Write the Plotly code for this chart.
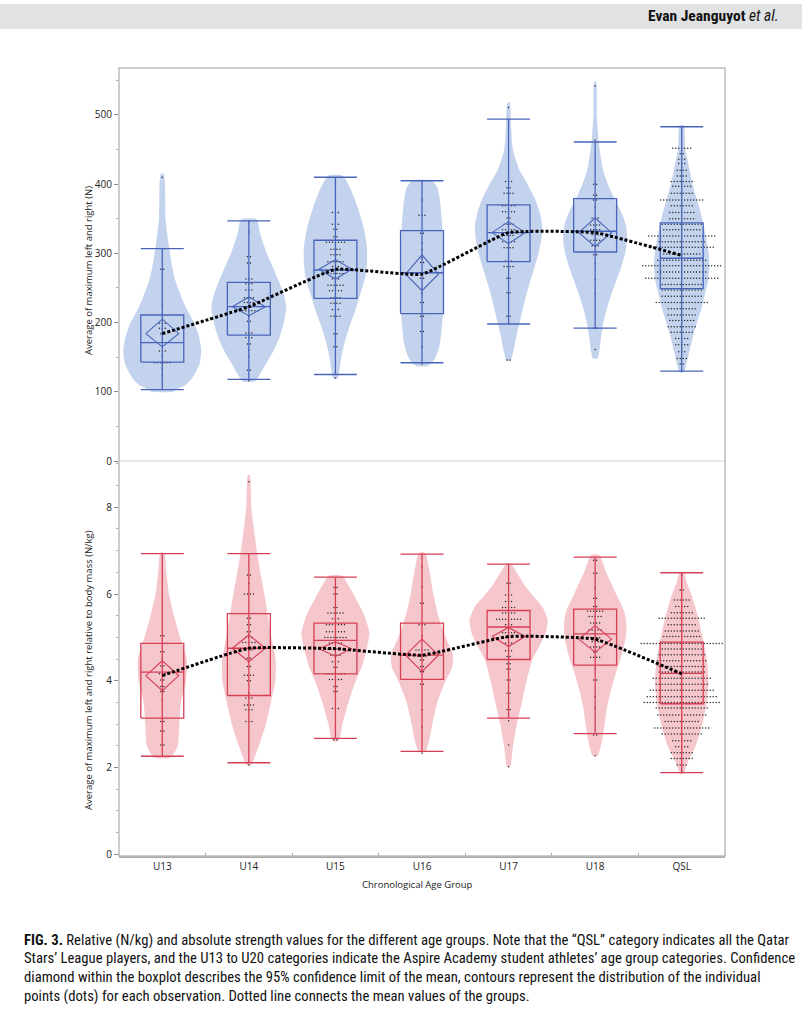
import plotly.graph_objects as go

groups = ["U13", "U14", "U15", "U16", "U17", "U18", "QSL"]

# ---------------- Absolute strength (N) ----------------
abs_lower = [103, 118, 125, 142, 198, 192, 130]
abs_q1 = [143, 182, 235, 213, 288, 302, 249]
abs_median = [171, 223, 276, 272, 330, 332, 293]
abs_q3 = [211, 258, 319, 333, 370, 379, 344]
abs_upper = [307, 347, 410, 405, 494, 461, 483]
abs_mean = [184, 223, 277, 270, 330, 330, 297]
abs_ci_low = [165, 210, 263, 246, 314, 310, None]
abs_ci_high = [205, 237, 291, 298, 346, 351, None]

# contour (density) profiles: value levels and relative density
abs_levels = [
    [100, 103, 110, 120, 140, 160, 180, 200, 220, 240, 260, 280, 300, 320, 350, 380, 400, 415],
    [115, 125, 140, 160, 180, 200, 223, 240, 260, 280, 300, 330, 349],
    [119, 124, 146, 170, 194, 218, 242, 266, 290, 310, 339, 363, 387, 412],
    [137, 140, 150, 170, 200, 230, 260, 290, 320, 350, 380, 395, 405],
    [145, 160, 180, 200, 220, 240, 260, 280, 300, 320, 340, 360, 380, 400, 420, 450, 480, 518],
    [148, 160, 180, 200, 220, 240, 260, 280, 300, 320, 340, 360, 380, 400, 420, 460, 500, 548],
    [128, 140, 160, 180, 200, 220, 240, 260, 280, 300, 320, 340, 360, 380, 400, 420, 450, 485],
]
abs_density = [
    [11, 13.3, 23.3, 30, 37.3, 39, 36.7, 31.7, 24.3, 18.3, 13.3, 10, 7.7, 5.7, 3.3, 3, 2.7, 1.5],
    [6, 11, 17, 25, 31, 35, 37.5, 35, 30, 24, 18, 11, 8],
    [2, 3.3, 5.5, 9, 14, 20, 25, 30, 31.7, 31.5, 28, 23, 17, 7.5],
    [5, 8.7, 13.7, 18, 20.3, 21.3, 22, 22, 21, 19.7, 17.7, 15.3, 10],
    [2, 5, 7.7, 11, 14.3, 17.7, 21.7, 26, 30, 32.7, 33.7, 31, 26, 19, 11, 4.3, 2.7, 1],
    [2.3, 4.3, 6, 8.3, 11.7, 16, 21, 26, 30, 32, 31, 26, 19, 12.7, 8, 3.7, 1.7, 1],
    [2, 4.7, 8, 11.3, 15.3, 19.7, 23, 26.3, 27.7, 27, 24.7, 22, 18.7, 14.7, 10.7, 8, 3.7, 2],
]

# individual points: row values and number of dots per row
abs_dot_values = [
    [410, 277, 225, 212, 199, 192, 184, 159, 151, 142, 134, 124],
    [346, 331, 295, 286, 263, 256, 247, 236, 229, 223, 217, 209, 202, 185, 178, 169, 160, 151, 131, 116],
    [401, 387, 359, 342, 335, 324, 316, 306, 298, 288, 281, 271, 263, 254, 246, 236, 228, 219, 209, 184, 165, 120],
    [377, 355, 329, 315, 305, 293, 287, 264, 242, 229, 209, 187, 165, 140],
    [511, 404, 395, 387, 369, 360, 351, 342, 334, 326, 317, 308, 289, 281, 264, 243, 209, 146],
    [542, 464, 400, 384, 377, 367, 351, 341, 334, 327, 319, 311, 298, 285, 262, 242, 192, 161],
    [483, 452, 444, 436, 430, 420, 412, 404, 397, 387, 377, 369, 359, 350, 342, 334, 325, 317, 309,
     299, 290, 282, 273, 264, 255, 247, 238, 229, 220, 211, 203, 194, 186, 177, 168, 158, 148, 140, 130],
]
abs_dot_counts = [
    [1, 2, 1, 1, 3, 3, 2, 3, 1, 6, 1, 1],
    [1, 1, 2, 2, 3, 3, 3, 4, 4, 2, 7, 1, 2, 3, 3, 2, 1, 1, 2, 1],
    [1, 1, 3, 3, 2, 2, 7, 4, 4, 6, 3, 6, 3, 6, 5, 4, 4, 3, 4, 2, 2, 1],
    [1, 3, 2, 1, 1, 1, 2, 2, 1, 2, 2, 2, 1, 1],
    [1, 3, 2, 4, 5, 5, 2, 4, 5, 4, 5, 4, 3, 4, 2, 2, 2, 2],
    [1, 1, 2, 2, 2, 1, 3, 4, 4, 3, 4, 3, 2, 1, 1, 1, 2, 1],
    [1, 7, 2, 3, 3, 4, 4, 8, 7, 8, 15, 8, 9, 9, 14, 13, 23, 16, 22,
     13, 17, 27, 17, 25, 14, 14, 14, 18, 10, 10, 9, 10, 8, 5, 5, 3, 4, 2, 1],
]

# ---------------- Relative strength (N/kg) ----------------
rel_lower = [2.26, 2.11, 2.67, 2.37, 3.14, 2.78, 1.88]
rel_q1 = [3.14, 3.66, 4.16, 4.03, 4.49, 4.36, 3.47]
rel_median = [4.20, 4.75, 4.93, 4.59, 5.24, 5.08, 4.17]
rel_q3 = [4.86, 5.55, 5.33, 5.33, 5.62, 5.65, 4.89]
rel_upper = [6.93, 6.93, 6.39, 6.92, 6.69, 6.85, 6.49]
rel_mean = [4.12, 4.75, 4.74, 4.59, 5.02, 4.96, 4.16]
rel_ci_low = [3.77, 4.44, 4.56, 4.21, 4.79, 4.66, None]
rel_ci_high = [4.46, 5.06, 4.90, 4.96, 5.23, 5.27, None]

rel_levels = [
    [2.22, 2.3, 2.5, 3.0, 3.5, 4.0, 4.5, 5.0, 5.5, 6.0, 6.5, 6.95],
    [2.05, 2.5, 3.0, 3.5, 4.0, 4.5, 5.0, 5.5, 6.0, 6.5, 7.0, 7.5, 8.0, 8.74],
    [2.6, 2.7, 3.0, 3.5, 4.0, 4.3, 4.7, 5.1, 5.5, 6.0, 6.2, 6.42],
    [2.35, 2.6, 3.0, 3.5, 4.0, 4.3, 4.6, 5.0, 5.5, 6.0, 6.5, 6.95],
    [2.02, 2.5, 3.0, 3.5, 4.0, 4.5, 4.8, 5.1, 5.4, 5.7, 6.0, 6.2, 6.5, 6.7],
    [2.27, 2.6, 3.0, 3.4, 3.8, 4.2, 4.6, 5.0, 5.3, 5.6, 6.0, 6.5, 6.9],
    [1.85, 2.1, 2.5, 3.0, 3.5, 4.0, 4.5, 5.0, 5.5, 6.0, 6.2, 6.5],
]
rel_density = [
    [7, 11, 15.5, 17, 18.7, 23.7, 24.5, 17.8, 11.7, 6.7, 4, 2],
    [2, 10, 17, 22, 26.5, 26.7, 22.5, 19, 15.5, 11.5, 8, 5, 2.5, 1],
    [2, 4.5, 7, 13, 20.5, 26, 31, 34, 29, 18, 13, 6.7],
    [3, 7, 10.3, 15.3, 23.7, 30, 31, 23.7, 16.3, 11.3, 7.7, 3],
    [1.5, 4.5, 8.3, 13.3, 18, 24, 31, 37, 39, 34, 23, 16, 8, 2.5],
    [2.5, 6.7, 9.5, 12, 16, 21, 26.7, 30.5, 31.3, 29, 21, 11, 4],
    [1.5, 5.7, 14, 20.5, 25, 26.7, 25, 21, 16, 9.5, 6, 1.7],
]

rel_dot_values = [
    [5.04, 4.67, 4.52, 4.34, 4.16, 4.02, 3.87, 3.75, 3.54, 3.06, 2.84, 2.52],
    [8.59, 6.44, 6.25, 6.00, 5.44, 5.29, 5.13, 5.00, 4.88, 4.71, 4.52, 4.33, 4.13, 4.00, 3.72, 3.60, 3.44, 3.33, 3.06, 2.06],
    [6.15, 6.00, 5.69, 5.56, 5.43, 5.29, 5.13, 5.00, 4.87, 4.73, 4.59, 4.44, 4.31, 4.16, 4.03, 3.87, 3.75, 3.36, 2.64],
    [6.63, 6.17, 5.79, 5.29, 5.03, 4.71, 4.57, 4.48, 4.33, 4.21, 3.92, 3.33, 2.94, 2.33],
    [6.25, 5.98, 5.83, 5.69, 5.56, 5.42, 5.29, 5.11, 5.00, 4.87, 4.69, 4.56, 4.39, 4.27, 4.02, 3.71, 3.34, 3.08, 2.52, 2.02],
    [6.78, 6.48, 6.13, 5.90, 5.71, 5.60, 5.48, 5.33, 5.17, 5.00, 4.90, 4.78, 4.67, 4.54, 4.29, 4.02, 3.64, 3.36, 2.75, 2.27],
    [6.44, 6.09, 5.86, 5.71, 5.57, 5.44, 5.29, 5.15, 5.02, 4.86, 4.73, 4.60, 4.46, 4.33, 4.20, 4.06,
     3.92, 3.78, 3.63, 3.50, 3.37, 3.21, 3.06, 2.91, 2.77, 2.62, 2.48, 2.34, 2.21, 2.06, 1.91],
]
rel_dot_counts = [
    [2, 2, 1, 2, 3, 2, 2, 2, 1, 2, 2, 2],
    [1, 2, 1, 4, 2, 2, 2, 3, 5, 3, 2, 2, 4, 2, 1, 3, 4, 3, 3, 1],
    [2, 2, 2, 6, 3, 7, 7, 8, 5, 6, 4, 3, 2, 7, 5, 2, 2, 3, 2],
    [1, 1, 2, 3, 1, 5, 4, 2, 2, 2, 2, 1, 1, 1],
    [2, 3, 3, 5, 5, 9, 3, 5, 3, 3, 3, 2, 2, 2, 2, 2, 2, 1, 1, 1],
    [2, 2, 1, 2, 2, 6, 5, 4, 5, 4, 3, 4, 2, 4, 1, 2, 1, 1, 2, 1],
    [1, 2, 6, 5, 8, 16, 10, 12, 13, 28, 14, 16, 17, 16, 16, 20,
     18, 22, 24, 26, 18, 17, 12, 19, 14, 7, 5, 8, 8, 4, 1],
]

# ---------------- styling ----------------
BLUE_FILL = "rgb(196,211,237)"
BLUE_LINE = "rgb(72,100,186)"
RED_FILL = "rgb(246,198,205)"
RED_LINE = "rgb(214,62,84)"
CAT_PX = 86.6          # pixel width of one category
DENS_SCALE = 1.0 / CAT_PX
DOT_STEP = 3.0 / CAT_PX
BOX_HW = 0.248
DIA_HW = 0.19
FONT = "Open Sans, Noto Sans, DejaVu Sans, sans-serif"
CAP_FONT = "Roboto Condensed, Liberation Sans Narrow, Arial Narrow, Liberation Sans, sans-serif"

W, H = 802, 1014
ML, MR, MT, MB = 119, 77, 68, 158
PW, PH = W - ML - MR, H - MT - MB
SPLIT = (856 - 461) / PH

def px_x(px):
    return (px - ML) / PW

def px_y(py):
    return (H - MB - py) / PH

fig = go.Figure()


def add_panel(yaxis, levels, density, dot_vals, dot_cnts, lower, q1, med, q3, upper,
              mean, ci_lo, ci_hi, fill, line):
    n_g = len(groups)
    # contours
    for i in range(n_g):
        lv, dn = levels[i], density[i]
        xs = [i + d * DENS_SCALE for d in dn] + [i - d * DENS_SCALE for d in reversed(dn)]
        ys = list(lv) + list(reversed(lv))
        xs.append(xs[0]); ys.append(ys[0])
        fig.add_trace(go.Scatter(x=xs, y=ys, mode="lines", fill="toself", fillcolor=fill,
                                 line=dict(width=0, color=fill, shape="spline", smoothing=0.6),
                                 yaxis=yaxis, hoverinfo="skip", showlegend=False))
    # dots
    dx, dy = [], []
    for i in range(n_g):
        for v, n in zip(dot_vals[i], dot_cnts[i]):
            for k in range(n):
                dx.append(i + (k - (n - 1) / 2) * DOT_STEP)
                dy.append(v)
    fig.add_trace(go.Scatter(x=dx, y=dy, mode="markers",
                             marker=dict(size=1.5, color="#2a2a2a", line=dict(width=0)),
                             yaxis=yaxis, hoverinfo="skip", showlegend=False))
    # box plots: whisker line, caps, box and median
    bx, by = [], []
    for i in range(n_g):
        l, r = i - BOX_HW, i + BOX_HW
        bx += [i, i, None]
        by += [lower[i], upper[i], None]
        bx += [l, r, None, l, r, None]
        by += [lower[i], lower[i], None, upper[i], upper[i], None]
        bx += [l, r, r, l, l, None]
        by += [q1[i], q1[i], q3[i], q3[i], q1[i], None]
        bx += [l, r, None]
        by += [med[i], med[i], None]
    fig.add_trace(go.Scatter(x=bx, y=by, mode="lines", line=dict(color=line, width=1.3),
                             yaxis=yaxis, hoverinfo="skip", showlegend=False))
    # mean diamonds
    mx, my = [], []
    for i in range(n_g):
        if ci_lo[i] is None:
            continue
        mx += [i - DIA_HW, i, i + DIA_HW, i, i - DIA_HW, None]
        my += [mean[i], ci_hi[i], mean[i], ci_lo[i], mean[i], None]
    fig.add_trace(go.Scatter(x=mx, y=my, mode="lines", line=dict(color=line, width=1.1),
                             yaxis=yaxis, hoverinfo="skip", showlegend=False))
    # mean connecting line
    fig.add_trace(go.Scatter(x=list(range(n_g)), y=mean, mode="lines",
                             line=dict(color="black", width=3, dash="3px,2px", shape="spline", smoothing=0.35),
                             yaxis=yaxis, hoverinfo="skip", showlegend=False))


add_panel("y", abs_levels, abs_density, abs_dot_values, abs_dot_counts, abs_lower, abs_q1,
          abs_median, abs_q3, abs_upper, abs_mean, abs_ci_low, abs_ci_high, BLUE_FILL, BLUE_LINE)
add_panel("y2", rel_levels, rel_density, rel_dot_values, rel_dot_counts, rel_lower, rel_q1,
          rel_median, rel_q3, rel_upper, rel_mean, rel_ci_low, rel_ci_high, RED_FILL, RED_LINE)

tickfont = dict(family=FONT, size=10, color="#222")

fig.update_layout(
    width=W, height=H, margin=dict(l=ML, r=MR, t=MT, b=MB),
    paper_bgcolor="white", plot_bgcolor="white", showlegend=False,
    font=dict(family=FONT, size=10, color="#222"),
    xaxis=dict(range=[-0.5, 6.5], anchor="y2", tickmode="array",
               tickvals=list(range(len(groups))), ticktext=groups, ticks="",
               showgrid=False, zeroline=False, showline=True, linecolor="#a8a8a8", linewidth=1.5,
               tickfont=tickfont,
               minor=dict(tick0=0.5, dtick=1, ticks="inside", ticklen=3, tickcolor="#a8a8a8",
                          showgrid=False)),
    yaxis=dict(domain=[SPLIT, 1], range=[0, 567.9], tickmode="array",
               tickvals=[0, 100, 200, 300, 400, 500], ticks="outside", ticklen=4,
               tickcolor="#8a8a8a", showgrid=False, zeroline=False, showline=False,
               tickfont=tickfont,
               minor=dict(dtick=50, tick0=0, ticks="outside", ticklen=2, tickcolor="#aaa",
                          showgrid=False)),
    yaxis2=dict(domain=[0, SPLIT], range=[-0.04, 9.067], tickmode="array",
                tickvals=[0, 2, 4, 6, 8], ticks="outside", ticklen=4,
                tickcolor="#8a8a8a", showgrid=False, zeroline=False, showline=False,
                tickfont=tickfont,
                minor=dict(dtick=0.5, tick0=0, ticks="outside", ticklen=2, tickcolor="#aaa",
                           showgrid=False)),
)

shapes = [
    # header bar
    dict(type="rect", xref="paper", yref="paper", x0=px_x(0), x1=px_x(W), y0=px_y(29), y1=px_y(4),
         fillcolor="#e1e2e4", line=dict(width=0), layer="below"),
    # frame
    dict(type="rect", xref="paper", yref="paper", x0=0, x1=1, y0=0, y1=1,
         line=dict(color="#bdbdbd", width=1.5), fillcolor="rgba(0,0,0,0)", layer="above"),
    # panel separator
    dict(type="line", xref="paper", yref="paper", x0=0, x1=1, y0=SPLIT, y1=SPLIT,
         line=dict(color="#e2e2e2", width=1.5), layer="below"),
]

annotations = [
    dict(text="<b>Evan Jeanguyot</b> <i>et al.</i>", xref="paper", yref="paper",
         x=px_x(781), y=px_y(16), xanchor="right", yanchor="middle", showarrow=False,
         font=dict(family=CAP_FONT, size=15.5, color="#111")),
    dict(text="Average of maximum left and right (N)", xref="paper", yref="paper",
         x=px_x(88), y=px_y(271), xanchor="center", yanchor="middle", textangle=-90,
         showarrow=False, font=dict(family=FONT, size=9.5, color="#222")),
    dict(text="Average of maximum left and right relative to body mass (N/kg)", xref="paper",
         yref="paper", x=px_x(88), y=px_y(670), xanchor="center", yanchor="middle",
         textangle=-90, showarrow=False, font=dict(family=FONT, size=9.5, color="#222")),
    dict(text="Chronological Age Group", xref="paper", yref="paper", x=px_x(417), y=px_y(884),
         xanchor="center", yanchor="middle", showarrow=False,
         font=dict(family=FONT, size=9.5, color="#222")),
]

caption_lines = [
    "<b>FIG. 3.</b> Relative (N/kg) and absolute strength values for the different age groups. Note that the \u201cQSL\u201d category indicates all the Qatar",
    "Stars\u2019 League players, and the U13 to U20 categories indicate the Aspire Academy student athletes\u2019 age group categories. Confidence",
    "diamond within the boxplot describes the 95% confidence limit of the mean, contours represent the distribution of the individual",
    "points (dots) for each observation. Dotted line connects the mean values of the groups.",
]
caption_y = [940, 958.5, 977, 995.5]
for line_text, cy in zip(caption_lines, caption_y):
    annotations.append(dict(text=line_text, xref="paper", yref="paper", x=px_x(22), y=px_y(cy),
                            xanchor="left", yanchor="middle", showarrow=False,
                            font=dict(family=CAP_FONT, size=14.7, color="#111")))

fig.update_layout(shapes=shapes, annotations=annotations)

fig.write_html("out.html", config={"displayModeBar": False},
               post_script="document.body.style.margin='0px';")
